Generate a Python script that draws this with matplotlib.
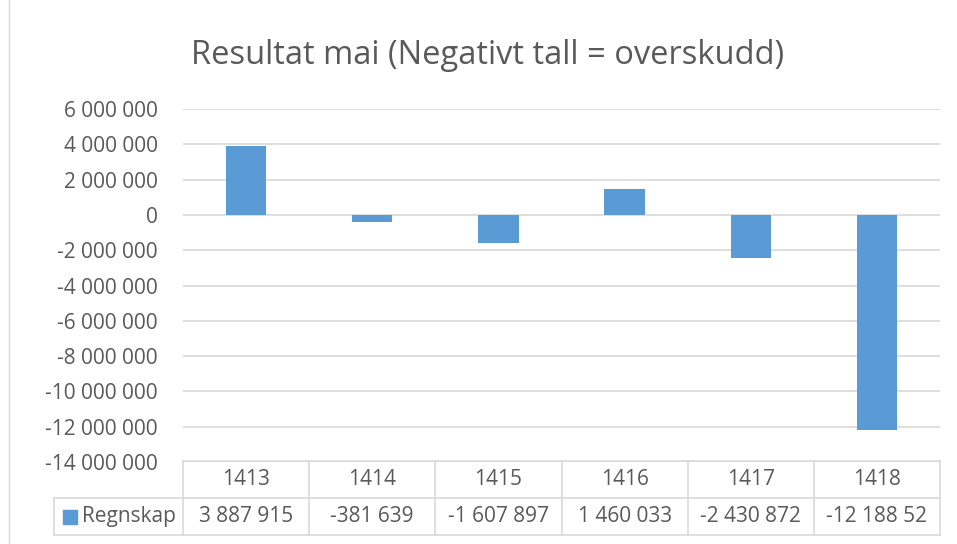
import matplotlib
matplotlib.use("Agg")
import matplotlib.pyplot as plt
from matplotlib.lines import Line2D
from matplotlib.patches import Rectangle

# Data
categories = ["1413", "1414", "1415", "1416", "1417", "1418"]
values = [3887915, -381639, -1607897, 1460033, -2430872, -12188520]
table_labels = ["3 887 915", "-381 639", "-1 607 897", "1 460 033", "-2 430 872", "-12 188 52"]
series_name = "Regnskap"
title = "Resultat mai (Negativt tall = overskudd)"
yticks = list(range(-14000000, 6000001, 2000000))

W, H = 957, 544
BAR_COLOR = "#5b9bd5"
GRID = "#d9d9d9"
TXT = "#595959"
FS = 15
plt.rcParams['font.family'] = ['Open Sans', 'DejaVu Sans']


def fx(px):
    return px / W


def fy(py):
    return 1 - py / H


def fmt(v):
    s = f"{abs(v):,}".replace(",", " ")
    return ("-" if v < 0 else "") + s


fig = plt.figure(figsize=(W / 100, H / 100), dpi=100)

# chart border
fig.add_artist(Rectangle((fx(9), fy(560)), fx(957), fy(0) - fy(560) + 0.01,
                         transform=fig.transFigure, fill=False, edgecolor=GRID, lw=1))

# plot area
left, right, top, bottom = 183, 940, 109, 462
ax = fig.add_axes([fx(left), fy(bottom), fx(right - left), fy(top) - fy(bottom)])
x = list(range(len(categories)))
ax.bar(x, values, width=0.32, color=BAR_COLOR, zorder=3)
ax.set_xlim(-0.5, len(categories) - 0.5)
ax.set_ylim(yticks[0], yticks[-1])
ax.set_yticks(yticks)
ax.set_yticklabels([fmt(t) for t in yticks], color=TXT, fontsize=FS)
ax.tick_params(axis="y", length=0, pad=18)
ax.set_xticks([])
ax.grid(axis="y", color=GRID, lw=1.2, zorder=0)
for s in ax.spines.values():
    s.set_visible(False)

fig.text(fx(488), fy(56), title, ha="center", va="center", fontsize=23.5, color=TXT)

# data table
col_w = (right - left) / len(categories)
row1_top, row1_bot, row2_bot = 461, 498, 535
tbl_left = 54

def hline(y, x0, x1):
    fig.add_artist(Line2D([fx(x0), fx(x1)], [fy(y), fy(y)], transform=fig.transFigure,
                          color=GRID, lw=1.2))

def vline(xp, y0, y1):
    fig.add_artist(Line2D([fx(xp), fx(xp)], [fy(y0), fy(y1)], transform=fig.transFigure,
                          color=GRID, lw=1.2))

hline(row1_top, left, right)
hline(row1_bot, tbl_left, right)
hline(row2_bot, tbl_left, right)
vline(tbl_left, row1_bot, row2_bot)
for i in range(len(categories) + 1):
    vline(left + i * col_w, row1_top, row2_bot)

for i, (c, lab) in enumerate(zip(categories, table_labels)):
    cx = left + (i + 0.5) * col_w
    fig.text(fx(cx), fy((row1_top + row1_bot) / 2), c, ha="center", va="center",
             fontsize=FS, color=TXT)
    fig.text(fx(cx), fy((row1_bot + row2_bot) / 2), lab, ha="center", va="center",
             fontsize=FS, color=TXT)

fig.add_artist(Rectangle((fx(63), fy(524)), fx(14), fy(510) - fy(524),
                         transform=fig.transFigure, color=BAR_COLOR))
fig.text(fx(82), fy((row1_bot + row2_bot) / 2), series_name, ha="left", va="center",
         fontsize=FS, color=TXT)

fig.savefig("out.png", dpi=100)
